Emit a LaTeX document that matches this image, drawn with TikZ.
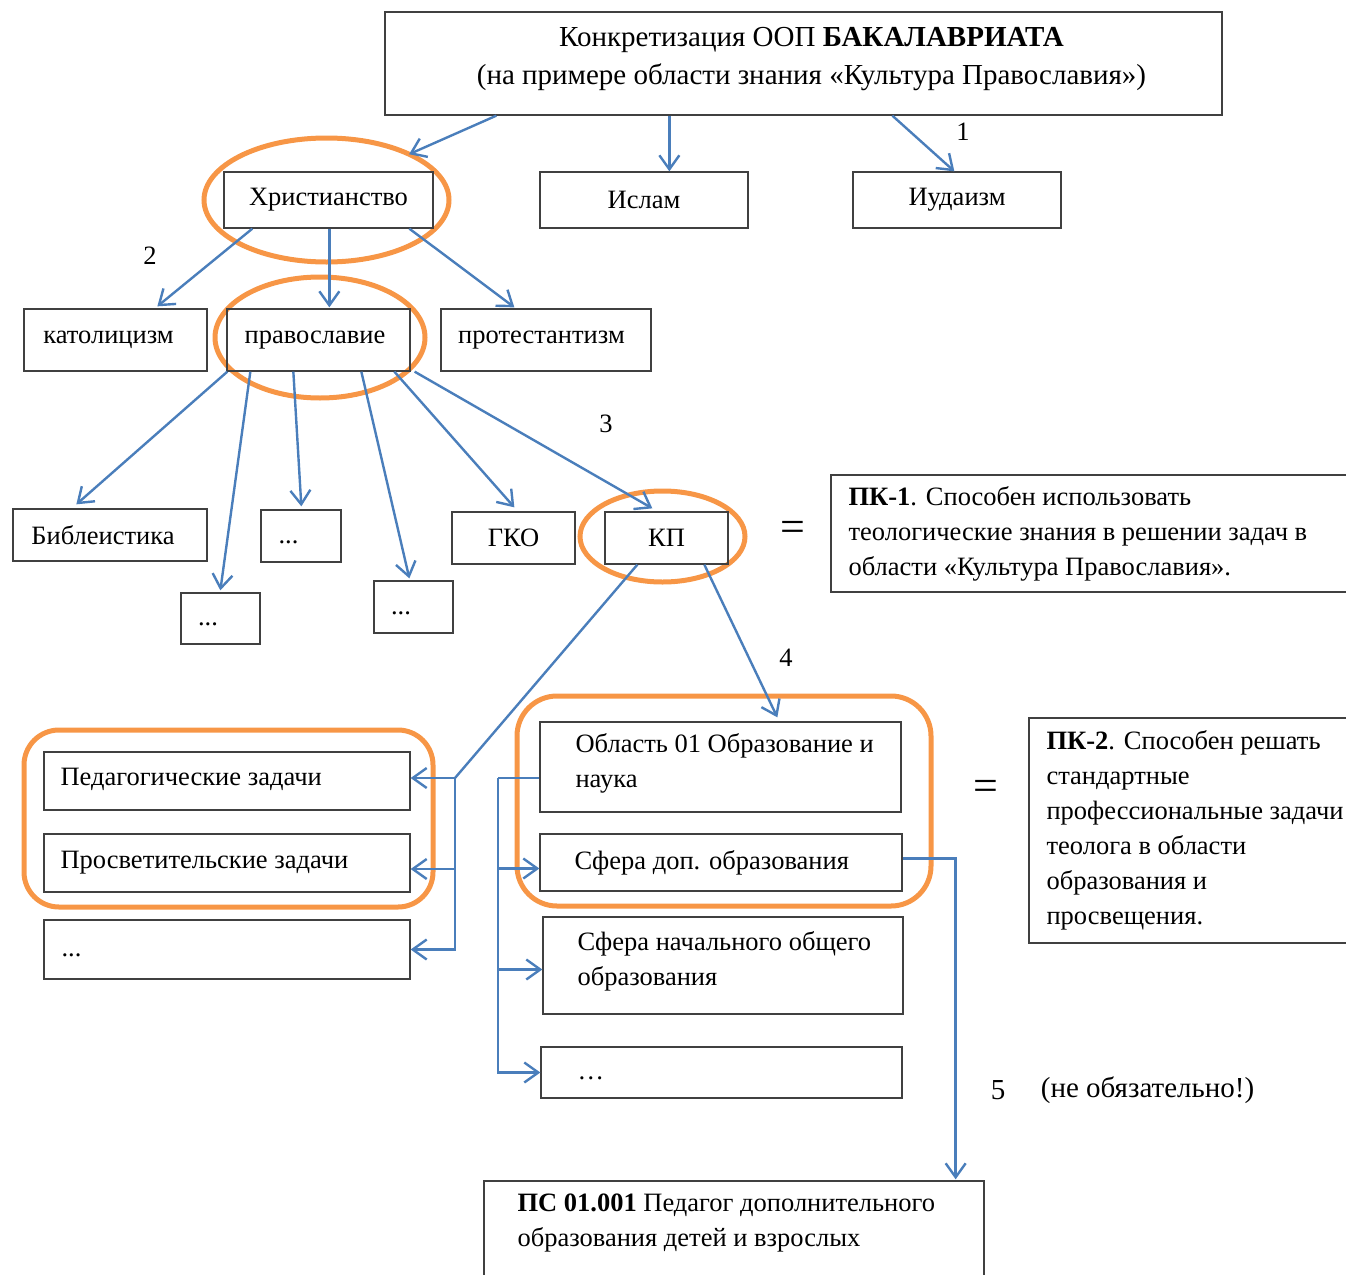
\documentclass[tikz,border=0pt]{standalone}
\usepackage{fontspec}
\setmainfont{Liberation Serif}
\usetikzlibrary{arrows.meta, shapes.geometric, positioning}

\definecolor{linkblue}{HTML}{4A7EBB}
\definecolor{markorange}{HTML}{F79646}
\newcommand{\txt}{\fontsize{26.5}{35}\selectfont}
\newcommand{\bigtxt}{\fontsize{29}{38}\selectfont}

\tikzset{
  box/.style={draw=black!75, line width=1.3pt, inner sep=0pt, font=\txt},
  txtl/.style={font=\txt, anchor=west, align=left, inner sep=0pt},
  ring/.style={draw=markorange, line width=5pt, outer sep=0pt, inner sep=0pt},
  link/.style={draw=linkblue, line width=2.4pt},
  arr/.style={link, -{Straight Barb[length=14pt, width=20pt]}},
  num/.style={font=\txt},
  eq/.style={font=\fontsize{44}{44}\selectfont},
}

\begin{document}
\begin{tikzpicture}[x=1pt, y=-1pt]
        \useasboundingbox (0,0) rectangle (1346,1274);

        % orange marks
        \node[ring, ellipse, minimum width=245pt, minimum height=124pt] (ellhr) at (326.5,200) {};
        \node[ring, ellipse, minimum width=210pt, minimum height=121pt] (ellpr) at (320,337.5) {};
        \node[ring, ellipse, minimum width=165pt, minimum height=91pt] (ellkp) at (662.5,536.5) {};
        \node[ring, rounded corners=35pt, minimum width=409pt, minimum height=177pt] (grpl) at (228.5,818.5) {};
        \node[ring, rounded corners=40pt, minimum width=414pt, minimum height=210pt] (grpr) at (724,801) {};

        % top levels
        \node[box, minimum width=837pt, minimum height=103pt] (head) at (803.5,63.5) {};
        \node[font=\bigtxt, align=center, inner sep=0pt] at ([xshift=8pt, yshift=4.5pt]head.center)
                {Конкретизация ООП \textbf{БАКАЛАВРИАТА}\\(на примере области знания «Культура Православия»)};
        \node[box, minimum width=209pt, minimum height=56pt] (hrist) at (328.5,200) {Христианство};
        \node[box, minimum width=208pt, minimum height=56pt] (islam) at (644,200) {Ислам};
        \node[box, minimum width=208pt, minimum height=56pt] (iud) at (957,200) {Иудаизм};

        \node[box, minimum width=183pt, minimum height=62pt] (kat) at (115.5,340) {католицизм\hspace*{14pt}};
        \node[box, minimum width=183pt, minimum height=62pt] (prav) at (318.5,340) {православие\hspace*{7pt}};
        \node[box, minimum width=210pt, minimum height=62pt] (prot) at (546,340) {протестантизм\hspace*{9pt}};

        \node[box, minimum width=194pt, minimum height=52pt] (bibl) at (110,535) {Библеистика\hspace*{14pt}};
        \node[box, minimum width=80pt, minimum height=52pt] (dotsa) at (301,536) {\strut...\hspace*{25pt}};
        \node[box, minimum width=79pt, minimum height=51pt] (dotsb) at (220.5,618.5) {\strut...\hspace*{25pt}};
        \node[box, minimum width=79pt, minimum height=52pt] (dotsc) at (413.5,607) {\strut...\hspace*{25pt}};
        \node[box, minimum width=123pt, minimum height=52pt] (gko) at (513.5,538) {ГКО};
        \node[box, minimum width=123pt, minimum height=52pt] (kp) at (666.5,538) {КП};

        % competences
        \node[eq] (eq1) at (793,531) {=};
        \node[box, minimum width=539pt, minimum height=117pt] (pk1) at (1100.5,533.5) {};
        \node[txtl] at ([xshift=18pt]pk1.west) {\textbf{ПК-1}. Способен использовать\\теологические знания в решении задач в\\области «Культура Православия».};

        \node[eq] (eq2) at (986,790) {=};
        \node[box, minimum width=341pt, minimum height=225pt] (pk2) at (1199.5,830.5) {};
        \node[txtl] at ([xshift=18pt]pk2.west) {\textbf{ПК-2}. Способен решать\\стандартные\\профессиональные задачи\\теолога в области\\образования и\\просвещения.};

        % tasks
        \node[box, minimum width=366pt, minimum height=58pt] (ped) at (227,781) {};
        \node[txtl] at ([xshift=17pt, yshift=2pt]ped.west) {Педагогические задачи};
        \node[box, minimum width=366pt, minimum height=58pt] (prosv) at (227,863) {};
        \node[txtl] at ([xshift=17pt]prosv.west) {Просветительские задачи};
        \node[box, minimum width=366pt, minimum height=59pt] (dots4) at (227,949.5) {};
        \node[txtl] at ([xshift=18pt]dots4.west) {\strut...};

        % fields
        \node[box, minimum width=361pt, minimum height=90pt] (obl) at (720.5,767) {};
        \node[txtl] at ([xshift=36pt, yshift=3.5pt]obl.west) {Область 01 Образование и\\наука};
        \node[box, minimum width=362pt, minimum height=57pt] (sdop) at (721,862.5) {};
        \node[txtl] at ([xshift=35pt]sdop.west) {Сфера доп. образования};
        \node[box, minimum width=360pt, minimum height=97pt] (snach) at (723,965.5) {};
        \node[txtl] at ([xshift=35pt, yshift=4pt]snach.west) {Сфера начального общего\\образования};
        \node[box, minimum width=361pt, minimum height=51pt] (dots5) at (721.5,1072.5) {};
        \node[txtl] at ([xshift=37pt]dots5.west) {\strut…};

        \node[box, minimum width=500pt, minimum height=119pt] (ps) at (734,1240.5) {};
        \node[txtl] at ([xshift=34pt, yshift=-43pt]ps.north west) {\textbf{ПС 01.001} Педагог дополнительного\\образования детей и взрослых};

        % numbers
        \node[num] (n1) at (963,132) {1};
        \node[num] (n2) at (150,256) {2};
        \node[num] (n3) at (606,424) {3};
        \node[num] (n4) at (786,658) {4};
        \node[font=\bigtxt] (n5) at (998,1090) {5};
        \node[font=\bigtxt] (note) at (1147.5,1090) {(не обязательно!)};

        % arrows
        \draw[arr] ([xshift=112pt]head.south west) -- (ellhr.29);
        \draw[arr] ([xshift=285pt]head.south west) -- ([xshift=130pt]islam.north west);
        \draw[arr] ([xshift=508pt]head.south west) -- ([xshift=102pt]iud.north west);

        \draw[arr] ([xshift=29pt]hrist.south west) -- ([xshift=134pt, yshift=2pt]kat.north west);
        \draw[arr] ([xshift=106pt]hrist.south west) -- ([xshift=103pt, yshift=1pt]prav.north west);
        \draw[arr] ([xshift=186pt]hrist.south west) -- ([xshift=74pt, yshift=1pt]prot.north west);

        \draw[arr] ([xshift=1pt]prav.south west) -- ([xshift=64pt, yshift=4pt]bibl.north west);
        \draw[arr] ([xshift=24pt]prav.south west) -- ([xshift=40pt, yshift=2pt]dotsb.north west);
        \draw[arr] ([xshift=67pt]prav.south west) -- ([xshift=41pt, yshift=3pt]dotsa.north west);
        \draw[arr] ([xshift=135pt]prav.south west) -- ([xshift=36pt, yshift=2pt]dotsc.north west);
        \draw[arr] ([xshift=168pt]prav.south west) -- ([xshift=63pt, yshift=4pt]gko.north west);
        \draw[arr] ([xshift=4pt]prav.south east) -- ([xshift=48pt, yshift=3pt]kp.north west);

        \coordinate (jl) at (455,778);
        \draw[link] ([xshift=33pt]kp.south west) -- (jl);
        \draw[arr] (jl) -- (jl -| ped.east);
        \draw[arr] (jl) |- ([yshift=-6pt]prosv.east);
        \draw[arr] (jl) |- (dots4.east);

        \draw[arr] ([xshift=100pt]kp.south west) -- ([xshift=238pt, yshift=4pt]obl.north west);
        \coordinate (jr) at (498,778);
        \draw[link] ([yshift=-11pt]obl.west) -- (jr);
        \draw[arr] (jr) |- ([yshift=-6pt]sdop.west);
        \draw[arr] (jr) |- ([yshift=-4pt]snach.west);
        \draw[arr] (jr) |- (dots5.west);

        \draw[arr] ([yshift=4pt]sdop.east) -| ([xshift=-29pt, yshift=1pt]ps.north east);
\end{tikzpicture}
\end{document}
